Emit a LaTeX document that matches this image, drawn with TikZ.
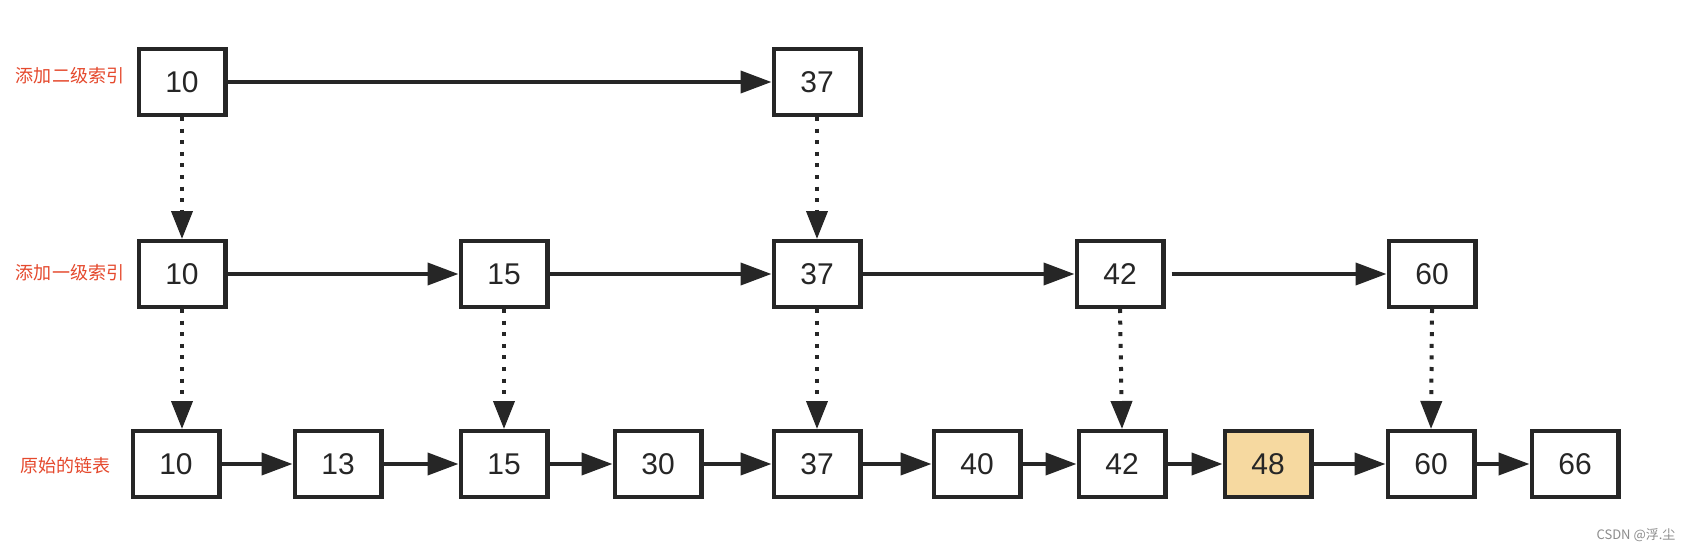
\documentclass[tikz,border=0pt]{standalone}
\usepackage{fontspec}
\usepackage{xcolor}
\usepackage{tikz}
\usetikzlibrary{arrows.meta}
\setmainfont{Liberation Sans}
\newfontfamily\cjk{Noto Sans CJK SC}
\definecolor{lblred}{HTML}{E5492D}
\definecolor{hotfill}{HTML}{F6D9A0}

\begin{document}
\begin{tikzpicture}[x=0.5pt, y=-0.5pt,
    cell/.style={draw=black!85, line width=2.2pt, minimum width=43.3pt, minimum height=32.8pt, inner sep=0pt, font=\fontsize{15}{18}\selectfont, text=black!85},
    hot/.style={cell, fill=hotfill},
    lbl/.style={font=\cjk\fontsize{9}{11}\selectfont, text=lblred},
    nxt/.style={line width=2pt, draw=black!85, -{Triangle[length=15.5pt, width=11pt]}},
    down/.style={line width=2pt, draw=black!85, dash pattern=on 2pt off 3.8pt, -{Triangle[length=14pt, width=10.5pt]}}]
    \fill[white] (0,0) rectangle (1690,551);
    \useasboundingbox (0,0) rectangle (1690,551);
    % labels
    \node[lbl] (l2) at (70,76) {添加二级索引};
    \node[lbl] (l1) at (70,273) {添加一级索引};
    \node[lbl] (l0) at (65,466) {原始的链表};
    % level 2
    \node[cell] (t10) at (182,82) {10};
    \node[cell] (t37) at (817,82) {37};
    % level 1
    \node[cell] (m10) at (182,274) {10};
    \node[cell] (m15) at (504,274) {15};
    \node[cell] (m37) at (817,274) {37};
    \node[cell] (m42) at (1120,274) {42};
    \node[cell] (m60) at (1432,274) {60};
    % base list
    \node[cell] (b10) at (176,464) {10};
    \node[cell] (b13) at (338,464) {13};
    \node[cell] (b15) at (504,464) {15};
    \node[cell] (b30) at (658,464) {30};
    \node[cell] (b37) at (817,464) {37};
    \node[cell] (b40) at (977,464) {40};
    \node[cell] (b42) at (1122,464) {42};
    \node[hot] (b48) at (1268,464) {48};
    \node[cell] (b60) at (1431,464) {60};
    \node[cell] (b66) at (1575,464) {66};
    \node[font=\cjk\fontsize{6.5}{8}\selectfont, text=black!45] (mark) at (1636,535) {CSDN @浮.尘};
    % next pointers
    \draw[nxt] (t10) -- (t37);
    \draw[nxt] (m10) -- (m15);
    \draw[nxt] (m15) -- (m37);
    \draw[nxt] (m37) -- (m42);
    \draw[nxt] ([xshift=3pt]m42.east) -- (m60);
    \draw[nxt] (b10) -- (b13);
    \draw[nxt] (b13) -- (b15);
    \draw[nxt] (b15) -- (b30);
    \draw[nxt] (b30) -- (b37);
    \draw[nxt] (b37) -- (b40);
    \draw[nxt] (b40) -- (b42);
    \draw[nxt] (b42) -- (b48);
    \draw[nxt] (b48) -- (b60);
    \draw[nxt] (b60) -- (b66);
    % down pointers
    \draw[down] (t10.south) -- (m10.north);
    \draw[down] (t37.south) -- (m37.north);
    \draw[down] (m10.south) -- (m10.south |- b10.north);
    \draw[down] (m15.south) -- (b15.north);
    \draw[down] (m37.south) -- (b37.north);
    \draw[down] (m42.south) -- (b42.north);
    \draw[down] (m60.south) -- (b60.north);
\end{tikzpicture}
\end{document}
